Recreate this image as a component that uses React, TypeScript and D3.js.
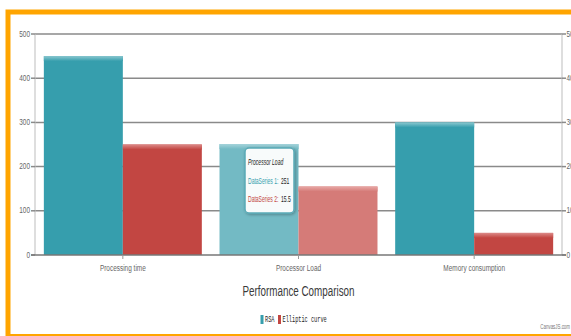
import React from "react";
import * as d3 from "d3";

const categories = ["Processing time", "Processor Load", "Memory consumption"];
const seriesNames = ["RSA", "Elliptic curve"];
const rsaValues = [450, 251, 300];
const ellipticValues = [25, 15.5, 5];
const leftTicks = [0, 100, 200, 300, 400, 500];
const rightTicks = [0, 10, 20, 30, 40, 50];
const highlighted = "Processor Load";

const W = 571;
const H = 336;
const SX = 0.68;

const colors = ["#369EAD", "#C24642"];
const hiColors = ["#73BAC4", "#D57B78"];
const bevelColors = ["#8CC8D0", "#DC8A88"];
const hiBevelColors = ["#A6D4DB", "#E8A8A6"];

function T({ x, y, children, size = 9, fill = "#555", anchor = "start", family = "'Liberation Sans', Arial, sans-serif", sx = SX, style = {}, weight = "normal" }: any) {
  return (
    <g transform={`translate(${x},${y}) scale(${sx},1)`}>
      <text x={0} y={0} fontSize={size} fill={fill} textAnchor={anchor} fontFamily={family} fontWeight={weight} dominantBaseline="middle" style={style}>
        {children}
      </text>
    </g>
  );
}

export default function App() {
  const left = 35, right = 562, top = 34, bottom = 255;
  const x = d3.scaleBand<string>().domain(categories).range([left, right]).paddingInner(0).paddingOuter(0);
  const xs = d3.scaleBand<string>().domain(seriesNames).range([0, x.bandwidth()]).paddingInner(0).paddingOuter(0.112);
  const yL = d3.scaleLinear().domain([0, 500]).range([bottom, top]);
  const yR = d3.scaleLinear().domain([0, 50]).range([bottom, top]);
  const series = [rsaValues, ellipticValues];
  const scales = [yL, yR];

  const pl = categories.indexOf(highlighted);
  const tipX = 245, tipY = 148;
  const tipSx = 0.53;

  return (
    <svg width={W} height={H} style={{ position: "absolute", left: 0, top: 0, display: "block" }}>
      <defs>
        {colors.map((c, i) => (
          <linearGradient key={i} id={`bev${i}`} x1="0" y1="0" x2="0" y2="1">
            <stop offset="0" stopColor={bevelColors[i]} />
            <stop offset="1" stopColor={colors[i]} />
          </linearGradient>
        ))}
        {colors.map((c, i) => (
          <linearGradient key={i} id={`hbev${i}`} x1="0" y1="0" x2="0" y2="1">
            <stop offset="0" stopColor={hiBevelColors[i]} />
            <stop offset="1" stopColor={hiColors[i]} />
          </linearGradient>
        ))}
        <filter id="sh" x="-20%" y="-20%" width="140%" height="140%">
          <feDropShadow dx="1" dy="1" stdDeviation="1.5" floodColor="#000" floodOpacity="0.3" />
        </filter>
      </defs>
      <rect x={0} y={0} width={W} height={H} fill="#fff" />
      {/* border */}
      <rect x={8} y={12} width={W + 10} height={324.5} fill="none" stroke="#FFA500" strokeWidth={5} />

      {/* gridlines */}
      {leftTicks.filter((t) => t > 0).map((t) => (
        <line key={t} x1={left} x2={right} y1={yL(t)} y2={yL(t)} stroke="#8a8a8a" strokeWidth={1.5} />
      ))}
      {/* axis lines */}
      <line x1={left} x2={left} y1={top} y2={bottom} stroke="#bdbdbd" strokeWidth={1} />
      <line x1={right} x2={right} y1={top} y2={bottom} stroke="#bdbdbd" strokeWidth={1} />
      {/* left ticks */}
      {leftTicks.map((t) => (
        <g key={t}>
          <line x1={left - 4} x2={left} y1={yL(t)} y2={yL(t)} stroke="#8a8a8a" strokeWidth={1.5} />
          <T x={left - 5} y={yL(t)} anchor="end" size={9.5} fill="#666">{t}</T>
        </g>
      ))}
      {/* right ticks */}
      {rightTicks.map((t) => (
        <g key={t}>
          <line x1={right} x2={right + 4} y1={yR(t)} y2={yR(t)} stroke="#8a8a8a" strokeWidth={1.5} />
          <T x={right + 4.5} y={yR(t)} anchor="start" size={9.5} fill="#666">{t}</T>
        </g>
      ))}

      {/* bars */}
      {categories.map((c, ci) => (
        <g key={c}>
          {seriesNames.map((s, si) => {
            const v = series[si][ci];
            const bx = (x(c) ?? 0) + (xs(s) ?? 0);
            const by = scales[si](v);
            const bw = xs.bandwidth();
            const bh = bottom - by;
            const hi = ci === pl;
            return (
              <g key={s}>
                <rect x={bx} y={by} width={bw} height={bh} fill={hi ? hiColors[si] : colors[si]} />
                <rect x={bx} y={by} width={bw} height={Math.min(5, bh)} fill={`url(#${hi ? "hbev" : "bev"}${si})`} />
              </g>
            );
          })}
        </g>
      ))}

      {/* x axis */}
      <line x1={left - 4} x2={right + 4} y1={bottom} y2={bottom} stroke="#777" strokeWidth={1.5} />
      {categories.map((c) => {
        const cx = (x(c) ?? 0) + x.bandwidth() / 2;
        return (
          <g key={c}>
            <line x1={cx} x2={cx} y1={bottom} y2={bottom + 4} stroke="#999" strokeWidth={1} />
            <T x={cx} y={268} anchor="middle" size={9.5} fill="#666">{c}</T>
          </g>
        );
      })}

      {/* title */}
      <T x={298.5} y={292} anchor="middle" size={14.5} fill="#3a3a3a">Performance Comparison</T>

      {/* legend */}
      <rect x={260.5} y={315} width={3} height={9} fill={colors[0]} />
      <T x={265} y={319.5} size={8.5} fill="#222" family="'Liberation Mono', 'DejaVu Sans Mono', monospace" sx={0.62}>{seriesNames[0]}</T>
      <rect x={278} y={315} width={3} height={9} fill={colors[1]} />
      <T x={282.5} y={319.5} size={8.5} fill="#222" family="'Liberation Mono', 'DejaVu Sans Mono', monospace" sx={0.62}>{seriesNames[1]}</T>

      {/* credit */}
      <T x={570} y={327} anchor="end" size={6.5} fill="#777">CanvasJS.com</T>

      {/* tooltip */}
      <rect x={tipX} y={tipY} width={49} height={65} rx={4} fill="#fff" fillOpacity={0.95} stroke="#5AAAB6" strokeWidth={1.5} filter="url(#sh)" />
      <T x={tipX + 3} y={tipY + 15} size={9.5} sx={tipSx} fill="#222" style={{ fontStyle: "italic" }}>{highlighted}</T>
      <T x={tipX + 3} y={tipY + 33.5} size={9.5} sx={tipSx} fill={colors[0]}>DataSeries 1:</T>
      <T x={tipX + 36} y={tipY + 33.5} size={9.5} sx={tipSx} fill="#222">{rsaValues[pl]}</T>
      <T x={tipX + 3} y={tipY + 52} size={9.5} sx={tipSx} fill={colors[1]}>DataSeries 2:</T>
      <T x={tipX + 36} y={tipY + 52} size={9.5} sx={tipSx} fill="#222">{ellipticValues[pl]}</T>
    </svg>
  );
}
